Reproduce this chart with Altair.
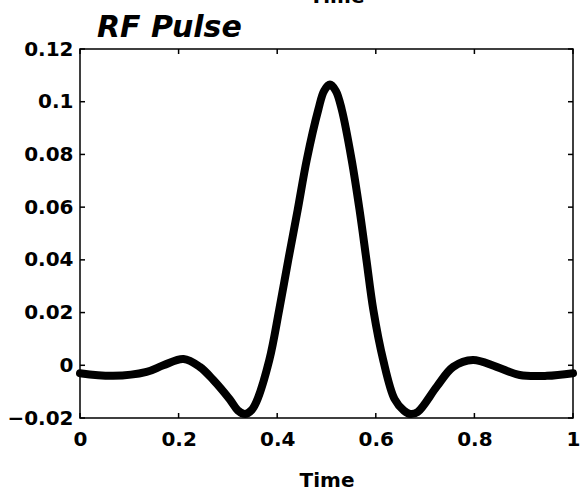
import altair as alt
import pandas as pd

# Curve samples (time, amplitude)
time = [0.0, 0.067, 0.135, 0.169, 0.21, 0.243, 0.27, 0.304, 0.32, 0.335, 0.348, 0.358,
        0.384, 0.404, 0.4225, 0.4416, 0.46, 0.4834, 0.495, 0.507, 0.519, 0.531, 0.551, 0.567,
        0.581, 0.595, 0.615, 0.638, 0.657, 0.67, 0.685, 0.724, 0.757, 0.797, 0.845, 0.892,
        0.947, 1.0]
amplitude = [-0.003, -0.004, -0.0025, 0.0, 0.0024, -0.0006, -0.0055, -0.013, -0.0171, -0.0185, -0.017, -0.0138,
             0.002, 0.021, 0.040, 0.059, 0.078, 0.097, 0.1041, 0.1065, 0.1041, 0.097, 0.078, 0.059,
             0.040, 0.021, 0.002, -0.0128, -0.0172, -0.0185, -0.0177, -0.008, -0.0006, 0.002, -0.0006, -0.0037,
             -0.004, -0.003]

x_ticks = [0, 0.2, 0.4, 0.6, 0.8, 1.0]
y_ticks = [-0.02, 0, 0.02, 0.04, 0.06, 0.08, 0.1, 0.12]
title_text = ["RF Pulse"]
remnant_text = ["Time"]

W, H = 493, 369
FONT = "DejaVu Sans"

df = pd.DataFrame({"t": time, "v": amplitude})
dfx = pd.DataFrame({"t": x_ticks})
dfy = pd.DataFrame({"v": y_ticks})

xscale = alt.Scale(domain=[0, 1], nice=False, zero=False)
yscale = alt.Scale(domain=[-0.02, 0.12], nice=False, zero=False)

xaxis = alt.Axis(values=x_ticks, format=".1~f", ticks=False, tickSize=0, domain=False,
                 grid=False, labelPadding=11, labelFont=FONT, labelFontSize=20,
                 labelFontWeight="bold", labelColor="black", titleFont=FONT,
                 titleFontSize=20, titleFontWeight="bold", titleColor="black",
                 titlePadding=21, labelFlush=False)
yaxis = alt.Axis(values=y_ticks, format=".2~f", ticks=False, tickSize=0, domain=False,
                 grid=False, labelPadding=7, labelFont=FONT, labelFontSize=20,
                 labelFontWeight="bold", labelColor="black", labelFlush=False)

X = alt.X("t:Q", scale=xscale, title="Time", axis=xaxis)
Y = alt.Y("v:Q", scale=yscale, title=None, axis=yaxis)

line = alt.Chart(df).mark_line(
    color="black", strokeWidth=8, interpolate="catmull-rom", strokeCap="round", strokeJoin="round"
).encode(x=X, y=Y)

TL = 5
xt_bottom = alt.Chart(dfx).mark_rule(color="black", strokeWidth=1.5).encode(
    x=X, y=alt.value(H), y2=alt.value(H - TL))
xt_top = alt.Chart(dfx).mark_rule(color="black", strokeWidth=1.5).encode(
    x=X, y=alt.value(0), y2=alt.value(TL))
yt_left = alt.Chart(dfy).mark_rule(color="black", strokeWidth=1.5).encode(
    y=Y, x=alt.value(0), x2=alt.value(TL))
yt_right = alt.Chart(dfy).mark_rule(color="black", strokeWidth=1.5).encode(
    y=Y, x=alt.value(W), x2=alt.value(W - TL))

title = alt.Chart(pd.DataFrame({"s": title_text})).mark_text(
    font=FONT, fontSize=30, fontWeight="bold", fontStyle="italic", color="black",
    baseline="alphabetic", align="left"
).encode(text="s:N", x=alt.value(17), y=alt.value(-12))

# remnant of the x-axis title of the panel above, cut by the top edge
remnant = alt.Chart(pd.DataFrame({"s": remnant_text})).mark_text(
    font=FONT, fontSize=20, fontWeight="bold", color="black", baseline="alphabetic", align="center"
).encode(text="s:N", x=alt.value(257), y=alt.value(-46))

chart = alt.layer(line, xt_bottom, xt_top, yt_left, yt_right, title, remnant).properties(
    width=W, height=H,
    background="white",
    autosize=alt.AutoSizeParams(type="none"),
    padding={"left": 80, "top": 49, "right": 7, "bottom": 79},
).configure_view(stroke="black", strokeWidth=1.5)

chart.save("out.html", embed_options={"renderer": "svg", "actions": False})
